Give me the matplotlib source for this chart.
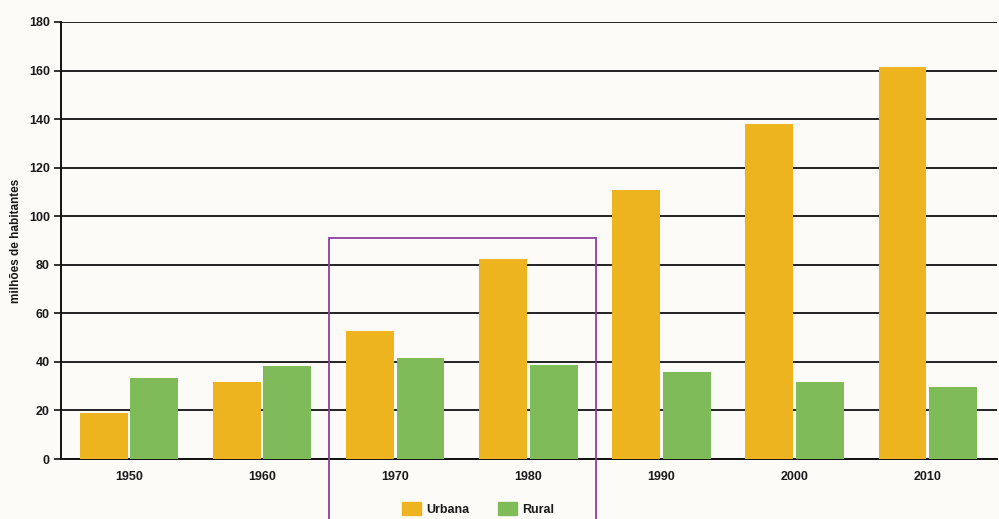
import matplotlib
matplotlib.use("Agg")
import matplotlib.pyplot as plt
from matplotlib.patches import Rectangle, Patch

years = ["1950", "1960", "1970", "1980", "1990", "2000", "2010"]
urbana = [18.8, 31.7, 52.7, 82.4, 110.8, 138.0, 161.5]
rural = [33.2, 38.5, 41.6, 38.8, 35.8, 31.8, 29.8]
yticks = [0, 20, 40, 60, 80, 100, 120, 140, 160, 180]

bg = "#fdfbf8"
c_urb = "#eeb420"
c_rur = "#80bb5a"

plt.rcParams['font.family'] = ['Liberation Sans', 'DejaVu Sans']
fig = plt.figure(figsize=(9.99, 5.19), dpi=100, facecolor=bg)
ax = fig.add_axes([61/999, 1 - 459/519, (997-61)/999, (459-22)/519])
ax.set_facecolor(bg)

x = list(range(len(years)))
w = 0.36
off = 0.19
ax.bar([i - off for i in x], urbana, width=w, color=c_urb, zorder=3, label="Urbana")
ax.bar([i + off for i in x], rural, width=w, color=c_rur, zorder=3, label="Rural")

ax.set_xlim(-0.51, 6.52)
ax.set_ylim(0, 180)
ax.set_yticks(yticks)
ax.set_xticks(x)
ax.set_xticklabels(years)
ax.yaxis.grid(True, color="#222222", linewidth=1.4, zorder=0)
ax.set_axisbelow(True)
for s in ["top", "right"]:
    ax.spines[s].set_visible(False)
ax.spines["left"].set_color("#111111")
ax.spines["bottom"].set_color("#111111")
ax.spines["left"].set_linewidth(1.4)
ax.spines["bottom"].set_linewidth(1.4)
ax.tick_params(axis="y", length=5, width=1.2, color="#111111", labelsize=9, pad=3)
ax.tick_params(axis="x", length=0, labelsize=9, pad=9)
for lab in ax.get_xticklabels() + ax.get_yticklabels():
    lab.set_fontweight("bold")
    lab.set_color("#1a1a1a")
ax.set_ylabel("milhões de habitantes", fontsize=8.5, fontweight="bold", color="#1a1a1a", labelpad=5)

# highlight rectangle
rect = Rectangle((1.504, -200), 3.511 - 1.504, 200 + 91, fill=False,
                 edgecolor="#8e3fa0", linewidth=1.3, clip_on=False, zorder=5)
ax.add_patch(rect)

handles = [Patch(color=c_urb, label="Urbana"), Patch(color=c_rur, label="Rural")]
leg = fig.legend(handles=handles, loc="center", bbox_to_anchor=(478/999, 1 - 509/519),
                 ncol=2, frameon=False, fontsize=9, handlelength=1.5, handleheight=1.2,
                 columnspacing=2.3, handletextpad=0.4)
for t in leg.get_texts():
    t.set_fontweight("bold")
    t.set_color("#1a1a1a")

fig.savefig("out.png", dpi=100, facecolor=bg)
